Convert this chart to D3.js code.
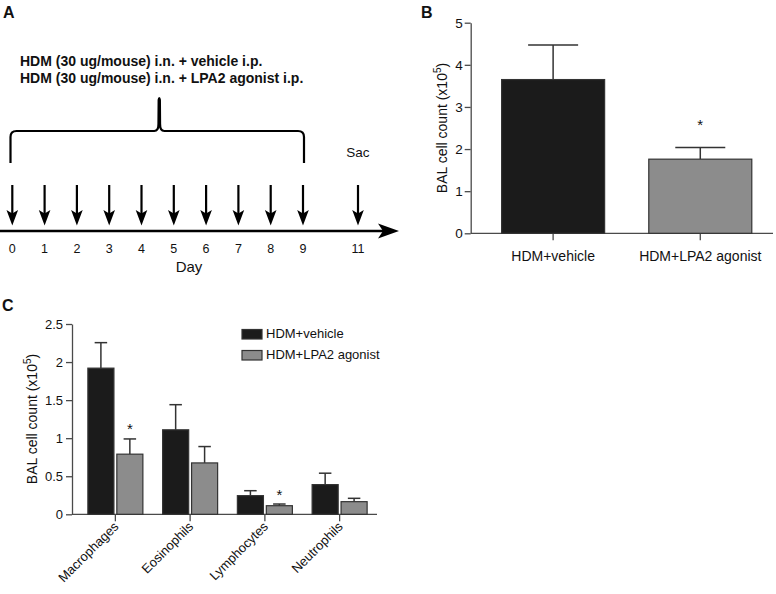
<!DOCTYPE html>
<html>
<head>
<meta charset="utf-8">
<script src="https://cdn.jsdelivr.net/npm/d3@7"></script>
<style>
  html, body { margin: 0; padding: 0; background: #fff; }
  svg { display: block; font-family: "Liberation Sans", Arial, Helvetica, sans-serif; }
</style>
</head>
<body>
<svg id="fig" width="776" height="594"></svg>
<script>
// ---------------- DATA ----------------
// Panel A: protocol timeline
const treatmentDays = [0, 1, 2, 3, 4, 5, 6, 7, 8, 9];
const sacDay = 11;
const dayTicks = [0, 1, 2, 3, 4, 5, 6, 7, 8, 9, 11];
const protocolLines = [
  "HDM (30 ug/mouse) i.n. + vehicle i.p.",
  "HDM (30 ug/mouse) i.n. + LPA2 agonist i.p."
];

// Panel B: total BAL cell count (x10^5)
const groups = ["HDM+vehicle", "HDM+LPA2 agonist"];
const totalMean = [3.65, 1.76];
const totalSEM = [0.82, 0.28];
const totalSig = [false, true];
const totalTicks = [0, 1, 2, 3, 4, 5];

// Panel C: differential BAL cell counts (x10^5)
const cellTypes = ["Macrophages", "Eosinophils", "Lymphocytes", "Neutrophils"];
const vehicleMean = [1.92, 1.11, 0.245, 0.39];
const vehicleSEM = [0.335, 0.33, 0.065, 0.15];
const agonistMean = [0.79, 0.675, 0.113, 0.166];
const agonistSEM = [0.20, 0.215, 0.022, 0.044];
const agonistSig = [true, false, true, false];
const diffTicks = [0, 0.5, 1, 1.5, 2, 2.5];

// ---------------- STYLE ----------------
const DARK = "#1b1b1b";
const GREY = "#8c8c8c";
const AXIS = "#4a4a4a";
const TXT = "#111";

const svg = d3.select("#fig");

// panel letters
[["A", 3, 18], ["B", 421, 18], ["C", 2, 311]].forEach(([t, x, y]) => {
  svg.append("text").attr("x", x).attr("y", y).attr("font-size", 16)
    .attr("font-weight", "bold").attr("fill", TXT).text(t);
});

// ================= PANEL A =================
{
  const g = svg.append("g");
  const x = d3.scaleLinear().domain([0, 9, 11]).range([12.3, 303, 358]);
  const lineY = 231;

  // protocol text
  g.selectAll("text.proto").data(protocolLines).join("text")
    .attr("class", "proto")
    .attr("x", 20).attr("y", (d, i) => 66 + i * 16.5)
    .attr("font-size", 14).attr("font-weight", "bold").attr("fill", TXT)
    .text(d => d);

  // brace
  const xl = x(0) - 1.8, xr = x(9) + 1, xm = x(4.55);
  const top = 131, bot = 163, peak = 97, r = 6;
  const p = d3.path();
  p.moveTo(xl, bot);
  p.lineTo(xl, top + r);
  p.quadraticCurveTo(xl, top, xl + r, top);
  p.lineTo(xm - 5, top);
  p.quadraticCurveTo(xm - 0.8, top, xm - 0.8, top - 7);
  p.lineTo(xm - 0.6, peak + 3);
  p.quadraticCurveTo(xm, peak - 1, xm + 0.6, peak + 3);
  p.lineTo(xm + 0.8, top - 7);
  p.quadraticCurveTo(xm + 0.8, top, xm + 5, top);
  p.lineTo(xr - r, top);
  p.quadraticCurveTo(xr, top, xr, top + r);
  p.lineTo(xr, bot);
  g.append("path").attr("d", p.toString()).attr("fill", "none")
    .attr("stroke", "#000").attr("stroke-width", 2.2).attr("stroke-linejoin", "round");

  // arrows
  const arrowDays = treatmentDays.concat([sacDay]);
  const ag = g.selectAll("g.arr").data(arrowDays).join("g").attr("class", "arr");
  ag.append("line")
    .attr("x1", d => x(d)).attr("x2", d => x(d))
    .attr("y1", 185).attr("y2", 215)
    .attr("stroke", "#000").attr("stroke-width", 2.2);
  ag.append("path")
    .attr("d", d => {
      const cx = x(d);
      return `M${cx - 5.8},210 L${cx},213.5 L${cx + 5.8},210 L${cx},225.5 Z`;
    })
    .attr("fill", "#000");

  // timeline axis with arrowhead
  g.append("line").attr("x1", 0).attr("x2", 386).attr("y1", lineY).attr("y2", lineY)
    .attr("stroke", "#000").attr("stroke-width", 2.4);
  g.append("path").attr("d", `M399,${lineY} L378,${lineY - 7.5} L383,${lineY} L378,${lineY + 7.5} Z`)
    .attr("fill", "#000");

  // day labels
  g.selectAll("text.day").data(dayTicks).join("text")
    .attr("class", "day")
    .attr("x", d => x(d)).attr("y", 253)
    .attr("text-anchor", "middle").attr("font-size", 12.5).attr("fill", TXT)
    .text(d => d);
  g.append("text").attr("x", 189).attr("y", 272).attr("text-anchor", "middle")
    .attr("font-size", 15).attr("fill", TXT).text("Day");
  g.append("text").attr("x", x(sacDay)).attr("y", 157).attr("text-anchor", "middle")
    .attr("font-size", 13.5).attr("fill", TXT).text("Sac");
}

// ================= PANEL B =================
{
  const g = svg.append("g");
  const x0 = 470.7, y0 = 233.3;
  const y = d3.scaleLinear().domain([0, 5]).range([y0, 22.7]);
  const x = d3.scaleBand().domain(groups).range([x0, 782.7]).paddingInner(0.3).paddingOuter(0.21);

  // y axis
  const ya = g.append("g").attr("transform", `translate(${x0},0)`)
    .call(d3.axisLeft(y).tickValues(totalTicks).tickSize(6).tickSizeOuter(0).tickFormat(d3.format("d")));
  ya.select(".domain").attr("stroke", AXIS).attr("stroke-width", 1.3);
  ya.selectAll(".tick line").attr("stroke", AXIS).attr("stroke-width", 1.3);
  ya.selectAll(".tick text").attr("font-size", 13.5).attr("fill", TXT).attr("x", -8)
    .attr("font-family", "Liberation Sans, Arial, sans-serif");

  // x axis
  const xa = g.append("g").attr("transform", `translate(0,${y0})`)
    .call(d3.axisBottom(x).tickSize(7).tickSizeOuter(0));
  xa.select(".domain").remove();
  xa.selectAll(".tick line").attr("stroke", AXIS).attr("stroke-width", 1.3);
  xa.selectAll(".tick text").attr("font-size", 14).attr("fill", TXT).attr("dy", "1.25em")
    .attr("font-family", "Liberation Sans, Arial, sans-serif");
  g.append("line").attr("x1", x0).attr("x2", 773).attr("y1", y0).attr("y2", y0)
    .attr("stroke", AXIS).attr("stroke-width", 1.3);

  // error bars (drawn first, bars over them)
  const capW = 50;
  groups.forEach((grp, i) => {
    const cx = x(grp) + x.bandwidth() / 2;
    const yt = y(totalMean[i] + totalSEM[i]);
    g.append("line").attr("x1", cx).attr("x2", cx).attr("y1", y(totalMean[i])).attr("y2", yt)
      .attr("stroke", "#333").attr("stroke-width", 1.5);
    g.append("line").attr("x1", cx - capW / 2).attr("x2", cx + capW / 2).attr("y1", yt).attr("y2", yt)
      .attr("stroke", "#333").attr("stroke-width", 1.5);
    if (totalSig[i]) {
      g.append("text").attr("x", cx).attr("y", yt - 17).attr("text-anchor", "middle")
        .attr("font-size", 15).attr("fill", TXT).text("*");
    }
  });
  g.selectAll("rect.bar").data(groups).join("rect")
    .attr("class", "bar")
    .attr("x", d => x(d)).attr("width", x.bandwidth())
    .attr("y", (d, i) => y(totalMean[i])).attr("height", (d, i) => y0 - y(totalMean[i]))
    .attr("fill", (d, i) => i === 0 ? DARK : GREY)
    .attr("stroke", "#333").attr("stroke-width", 1.2);

  // y label
  const lab = g.append("text").attr("transform", `translate(447,128) rotate(-90)`)
    .attr("text-anchor", "middle").attr("font-size", 14).attr("fill", TXT);
  lab.append("tspan").text("BAL cell count (x10");
  lab.append("tspan").attr("font-size", 10).attr("dy", -6).text("5");
  lab.append("tspan").attr("dy", 6).text(")");
}

// ================= PANEL C =================
{
  const g = svg.append("g");
  const x0 = 72, y0 = 514.3;
  const y = d3.scaleLinear().domain([0, 2.5]).range([y0, 324]);
  const x = d3.scaleBand().domain(cellTypes).range([78, 377]);
  const series = [
    { name: groups[0], mean: vehicleMean, sem: vehicleSEM, sig: [false, false, false, false], fill: DARK },
    { name: groups[1], mean: agonistMean, sem: agonistSEM, sig: agonistSig, fill: GREY }
  ];
  const xi = d3.scaleBand().domain(series.map(s => s.name)).range([-27.5, 27.5]).paddingInner(0.1);

  // y axis
  const ya = g.append("g").attr("transform", `translate(${x0},0)`)
    .call(d3.axisLeft(y).tickValues(diffTicks).tickSize(6).tickSizeOuter(0).tickFormat(d => String(d)));
  ya.select(".domain").attr("stroke", AXIS).attr("stroke-width", 1.3);
  ya.selectAll(".tick line").attr("stroke", AXIS).attr("stroke-width", 1.3);
  ya.selectAll(".tick text").attr("font-size", 13).attr("fill", TXT).attr("x", -9)
    .attr("font-family", "Liberation Sans, Arial, sans-serif");

  // x axis
  const xa = g.append("g").attr("transform", `translate(0,${y0})`)
    .call(d3.axisBottom(x).tickSize(7).tickSizeOuter(0));
  xa.select(".domain").remove();
  xa.selectAll(".tick line").attr("stroke", AXIS).attr("stroke-width", 1.3);
  xa.selectAll(".tick text")
    .attr("font-size", 13).attr("fill", TXT)
    .attr("font-family", "Liberation Sans, Arial, sans-serif")
    .attr("text-anchor", "end")
    .attr("y", 0).attr("dy", 0)
    .attr("transform", "translate(4,13) rotate(-45)");
  g.append("line").attr("x1", x0).attr("x2", 377).attr("y1", y0).attr("y2", y0)
    .attr("stroke", AXIS).attr("stroke-width", 1.3);

  const capW = 12.5;
  series.forEach(s => {
    cellTypes.forEach((c, i) => {
      const cx = x(c) + x.bandwidth() / 2 + xi(s.name) + xi.bandwidth() / 2;
      const yt = y(s.mean[i] + s.sem[i]);
      g.append("line").attr("x1", cx).attr("x2", cx).attr("y1", y(s.mean[i])).attr("y2", yt)
        .attr("stroke", "#333").attr("stroke-width", 1.5);
      g.append("line").attr("x1", cx - capW / 2).attr("x2", cx + capW / 2).attr("y1", yt).attr("y2", yt)
        .attr("stroke", "#333").attr("stroke-width", 1.5);
      if (s.sig[i]) {
        g.append("text").attr("x", cx).attr("y", yt - 4.5).attr("text-anchor", "middle")
          .attr("font-size", 15).attr("fill", TXT).text("*");
      }
    });
    g.selectAll(null).data(cellTypes).join("rect")
      .attr("x", c => x(c) + x.bandwidth() / 2 + xi(s.name))
      .attr("width", xi.bandwidth())
      .attr("y", (c, i) => y(s.mean[i]))
      .attr("height", (c, i) => y0 - y(s.mean[i]))
      .attr("fill", s.fill).attr("stroke", "#333").attr("stroke-width", 1.2);
  });

  // legend
  const lg = g.selectAll("g.leg").data(series).join("g").attr("class", "leg")
    .attr("transform", (d, i) => `translate(242,${329.5 + i * 21})`);
  lg.append("rect").attr("width", 20).attr("height", 9.5)
    .attr("fill", d => d.fill).attr("stroke", "#333").attr("stroke-width", 1.2);
  lg.append("text").attr("x", 24).attr("y", 8.5).attr("font-size", 13).attr("fill", TXT)
    .text(d => d.name);

  // y label
  const lab = g.append("text").attr("transform", `translate(37,419) rotate(-90)`)
    .attr("text-anchor", "middle").attr("font-size", 14).attr("fill", TXT);
  lab.append("tspan").text("BAL cell count (x10");
  lab.append("tspan").attr("font-size", 10).attr("dy", -6).text("5");
  lab.append("tspan").attr("dy", 6).text(")");
}
</script>
</body>
</html>
